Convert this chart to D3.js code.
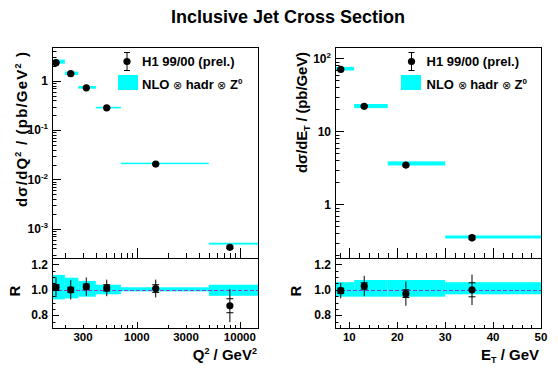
<!DOCTYPE html>
<html>
<head>
<meta charset="utf-8">
<script src="https://cdn.jsdelivr.net/npm/d3@7"></script>
<style>
body { margin: 0; background: #fff; }
svg text { font-family: "Liberation Sans", Arial, sans-serif; font-weight: bold; fill: #000; }
</style>
</head>
<body>
<svg id="chart" width="558" height="371"></svg>
<script>
// --- Q2 distribution (left) ---
const q2Edges   = [150, 200, 270, 400, 700, 5000, 15000]
const q2Centers = [164, 228, 323, 510, 1524, 8000]
const q2Sigma   = [2.32, 1.39, 0.72, 0.283, 0.0204, 0.00042]
const q2Theory  = [2.4, 1.4, 0.73, 0.285, 0.021, 0.0005]
const q2BandLo  = [0.925, 0.933, 0.946, 0.965, 0.988, 0.953]
const q2BandHi  = [1.117, 1.095, 1.07, 1.04, 1.02, 1.04]
const q2Ratio   = [1.02, 1.0, 1.025, 1.015, 1.01, 0.875]
const q2ErrTot  = [0.076, 0.076, 0.072, 0.065, 0.07, 0.13]
const q2ErrStat = [0.02, 0.02, 0.02, 0.025, 0.03, 0.055]
const q2Labels  = [300, 1000, 3000, 10000]

// --- ET distribution (right) ---
const etEdges   = [7, 11, 18, 30, 50]
const etCenters = [8.2, 13.1, 21.8, 35.6]
const etSigma   = [70.6, 22, 3.45, 0.349]
const etTheory  = [72, 22, 3.6, 0.353]
const etBandLo  = [0.946, 0.946, 0.946, 0.965]
const etBandHi  = [1.06, 1.077, 1.077, 1.06]
const etRatio   = [0.993, 1.03, 0.97, 1.0]
const etErrTot  = [0.06, 0.08, 0.095, 0.12]
const etErrStat = [0.02, 0.025, 0.03, 0.055]
const etLabels  = [10, 20, 30, 40, 50]

const ratioLabels = [0.8, 1.0, 1.2]

const svg = d3.select("#chart")
const TOP = 47, MID = 258, BOT = 328

const qx = d3.scaleLog().domain([150, 15000]).range([52, 258])
const qy = d3.scaleLog().domain([2.55e-4, 4.83]).range([MID, TOP])
const ex = d3.scaleLinear().domain([7, 50]).range([335, 541])
const ey = d3.scaleLog().domain([0.184, 143]).range([MID, TOP])
const ry = d3.scaleLinear().domain([0.7, 1.25]).range([BOT, MID])

const panels = [
    { x: qx, y: qy, edges: q2Edges, c: q2Centers, s: q2Sigma, th: q2Theory, lo: q2BandLo, hi: q2BandHi,
      r: q2Ratio, tot: q2ErrTot, stat: q2ErrStat },
    { x: ex, y: ey, edges: etEdges, c: etCenters, s: etSigma, th: etTheory, lo: etBandLo, hi: etBandHi,
      r: etRatio, tot: etErrTot, stat: etErrStat }
]

// log minor tick values inside a domain
const logTicks = dom => {
    let major = [], minor = []
    for (let k = Math.floor(Math.log10(dom[0])); k <= Math.ceil(Math.log10(dom[1])); k++) {
        for (let m = 1; m < 10; m++) {
            let v = m * Math.pow(10, k)
            if (v < dom[0] || v > dom[1]) continue
            (m == 1 ? major : minor).push(v)
        }
    }
    return { major, minor }
}

const vTicks = (g, scale, x0, vals, len) => {
    g.append("g").selectAll("line").data(vals).join("line")
        .attr("x1", x0).attr("x2", x0 + len)
        .attr("y1", d => Math.round(scale(d)) + 0.5).attr("y2", d => Math.round(scale(d)) + 0.5)
        .attr("stroke", "#000").attr("stroke-width", 1)
}
const hTicks = (g, scale, y0, vals, len) => {
    g.append("g").selectAll("line").data(vals).join("line")
        .attr("y1", y0).attr("y2", y0 - len)
        .attr("x1", d => Math.round(scale(d)) + 0.5).attr("x2", d => Math.round(scale(d)) + 0.5)
        .attr("stroke", "#000").attr("stroke-width", 1)
}

// superscript helper: base + exponent
const powText = (sel, base, exp) => {
    sel.append("tspan").text(base)
    if (exp !== "") sel.append("tspan").attr("dy", -5).attr("font-size", 8).text(exp)
}

const drawPanel = (p, yTicks) => {
    let [x0, x1] = p.x.range()
    let g = svg.append("g")
    let w = (d, i) => p.x(p.edges[i + 1]) - p.x(p.edges[i])

    // theory bands, top
    g.append("g").selectAll("rect").data(p.th).join("rect")
        .attr("x", (d, i) => p.x(p.edges[i])).attr("width", w)
        .attr("y", (d, i) => {
            let a = p.y(d * p.hi[i]), b = p.y(d * p.lo[i])
            return b - a < 1.5 ? (a + b) / 2 - 0.75 : a
        })
        .attr("height", (d, i) => Math.max(1.5, p.y(d * p.lo[i]) - p.y(d * p.hi[i])))
        .attr("fill", "#00ffff")

    // theory bands, ratio
    g.append("g").selectAll("rect").data(p.lo).join("rect")
        .attr("x", (d, i) => p.x(p.edges[i])).attr("width", w)
        .attr("y", (d, i) => ry(p.hi[i]))
        .attr("height", (d, i) => ry(d) - ry(p.hi[i]))
        .attr("fill", "#00ffff")

    g.append("line").attr("x1", x0).attr("x2", x1)
        .attr("y1", Math.round(ry(1)) + 0.5).attr("y2", Math.round(ry(1)) + 0.5)
        .attr("stroke", "#8040e0").attr("stroke-width", 1).attr("stroke-dasharray", "4,2")

    // data points with errors
    const points = (vals, yf) => {
        let pg = g.append("g")
        vals.forEach((v, i) => {
            let cx = p.x(p.c[i])
            pg.append("line").attr("x1", cx).attr("x2", cx)
                .attr("y1", yf(v * (1 - p.tot[i]), v, -p.tot[i])).attr("y2", yf(v * (1 + p.tot[i]), v, p.tot[i]))
                .attr("stroke", "#000")
            ;[-1, 1].forEach(sg => {
                pg.append("line").attr("x1", cx - 3.5).attr("x2", cx + 3.5)
                    .attr("y1", yf(v * (1 + sg * p.stat[i]), v, sg * p.stat[i]))
                    .attr("y2", yf(v * (1 + sg * p.stat[i]), v, sg * p.stat[i]))
                    .attr("stroke", "#000")
            })
            pg.append("circle").attr("cx", cx).attr("cy", yf(v, v, 0)).attr("r", 3.6).attr("fill", "#000")
        })
    }
    points(p.s, (val) => p.y(val))
    points(p.r, (val, v, e) => ry(v + e))

    // ticks
    let lt = logTicks(p.y.domain())
    vTicks(g, p.y, x0, lt.major, 9)
    vTicks(g, p.y, x0, lt.minor, 4.5)
    vTicks(g, ry, x0, ratioLabels, 7)
    vTicks(g, ry, x0, d3.range(0.75, 1.25, 0.05).filter(v => Math.abs(v * 5 - Math.round(v * 5)) > 0.01), 3.5)

    // frames
    g.append("rect").attr("x", x0 + 0.5).attr("y", TOP + 0.5).attr("width", x1 - x0).attr("height", MID - TOP)
        .attr("fill", "none").attr("stroke", "#000")
    g.append("rect").attr("x", x0 + 0.5).attr("y", MID + 0.5).attr("width", x1 - x0).attr("height", BOT - MID)
        .attr("fill", "none").attr("stroke", "#000")

    // y tick labels
    let lg = g.append("g").attr("font-size", 12).attr("text-anchor", "end")
    yTicks.forEach(t => {
        let tx = lg.append("text").attr("x", x0 - 4).attr("y", p.y(t.v)).attr("dy", "0.35em")
        powText(tx, t.b, t.e)
    })
    lg.selectAll(null).data(ratioLabels).join("text")
        .attr("x", x0 - 4).attr("y", d => ry(d)).attr("dy", "0.35em")
        .text(d => d3.format(".1f")(d))
    return g
}

// left panel
let gl = drawPanel(panels[0], [
    { v: 1, b: "1", e: "" }, { v: 0.1, b: "10", e: "-1" }, { v: 0.01, b: "10", e: "-2" }, { v: 0.001, b: "10", e: "-3" }
])
let qMinor = [200, 300, 400, 500, 600, 700, 800, 900, 2000, 3000, 4000, 5000, 6000, 7000, 8000, 9000]
hTicks(gl, qx, MID, qMinor, 5)
hTicks(gl, qx, MID, [1000, 10000], 10)
hTicks(gl, qx, BOT, qMinor, 3)
hTicks(gl, qx, BOT, [1000, 10000], 6)
gl.append("g").attr("font-size", 11.5).attr("text-anchor", "middle")
    .selectAll("text").data(q2Labels).join("text")
    .attr("x", d => qx(d)).attr("y", 341).text(d => d)

// right panel
let gr = drawPanel(panels[1], [
    { v: 100, b: "10", e: "2" }, { v: 10, b: "10", e: "" }, { v: 1, b: "1", e: "" }
])
let eMinor = d3.range(8, 50, 2).filter(v => v % 10 != 0)
hTicks(gr, ex, MID, eMinor, 5)
hTicks(gr, ex, MID, etLabels, 10)
hTicks(gr, ex, BOT, eMinor, 3)
hTicks(gr, ex, BOT, etLabels, 6)
gr.append("g").attr("font-size", 11.5).attr("text-anchor", "middle")
    .selectAll("text").data(etLabels).join("text")
    .attr("x", d => ex(d)).attr("y", 341).text(d => d)

// titles
svg.append("text").attr("x", 288).attr("y", 23).attr("text-anchor", "middle").attr("font-size", 18)
    .text("Inclusive Jet Cross Section")

let t = svg.append("text").attr("transform", "translate(27,52) rotate(-90)").attr("text-anchor", "end")
    .attr("font-size", 15).attr("textLength", 155)
t.append("tspan").text("dσ/dQ")
t.append("tspan").attr("dy", -6).attr("font-size", 9).text("2")
t.append("tspan").attr("dy", 6).text(" / (pb/GeV")
t.append("tspan").attr("dy", -6).attr("font-size", 9).text("2")
t.append("tspan").attr("dy", 6).text(" )")

t = svg.append("text").attr("transform", "translate(307,52) rotate(-90)").attr("text-anchor", "end")
    .attr("font-size", 15).attr("textLength", 121)
t.append("tspan").text("dσ/dE")
t.append("tspan").attr("dy", 3).attr("font-size", 9).text("T")
t.append("tspan").attr("dy", -3).text(" / (pb/GeV)")

t = svg.append("text").attr("x", 257).attr("y", 360).attr("text-anchor", "end").attr("font-size", 15)
t.append("tspan").text("Q")
t.append("tspan").attr("dy", -6).attr("font-size", 9).text("2")
t.append("tspan").attr("dy", 6).text(" / GeV")
t.append("tspan").attr("dy", -6).attr("font-size", 9).text("2")

t = svg.append("text").attr("x", 539).attr("y", 360).attr("text-anchor", "end").attr("font-size", 15)
t.append("tspan").text("E")
t.append("tspan").attr("dy", 3).attr("font-size", 9).text("T")
t.append("tspan").attr("dy", -3).text(" / GeV")

;[20, 301].forEach(x => {
    svg.append("text").attr("transform", `translate(${x},291) rotate(-90)`).attr("text-anchor", "middle")
        .attr("font-size", 15).text("R")
})

// legends
const legend = (mx, rx, tx) => {
    let g = svg.append("g")
    g.append("line").attr("x1", mx).attr("x2", mx).attr("y1", 52).attr("y2", 71).attr("stroke", "#000")
    ;[52.5, 70.5].forEach(y => g.append("line").attr("x1", mx - 3).attr("x2", mx + 3).attr("y1", y).attr("y2", y).attr("stroke", "#000"))
    g.append("circle").attr("cx", mx).attr("cy", 61.5).attr("r", 3.6).attr("fill", "#000")
    g.append("text").attr("x", tx).attr("y", 65.5).attr("font-size", 13).text("H1 99/00 (prel.)")
    g.append("rect").attr("x", rx).attr("y", 75).attr("width", 20).attr("height", 15).attr("fill", "#00ffff")
    let lt = g.append("text").attr("x", tx).attr("y", 88.5).attr("font-size", 13)
    lt.append("tspan").text("NLO ")
    lt.append("tspan").attr("font-size", 11).attr("font-weight", "normal").text("⊗")
    lt.append("tspan").text(" hadr ")
    lt.append("tspan").attr("font-size", 11).attr("font-weight", "normal").text("⊗")
    lt.append("tspan").text(" Z")
    lt.append("tspan").attr("dy", -5).attr("font-size", 8).text("0")
}
legend(127, 118, 142)
legend(411.5, 401, 426.5)
</script>
</body>
</html>
